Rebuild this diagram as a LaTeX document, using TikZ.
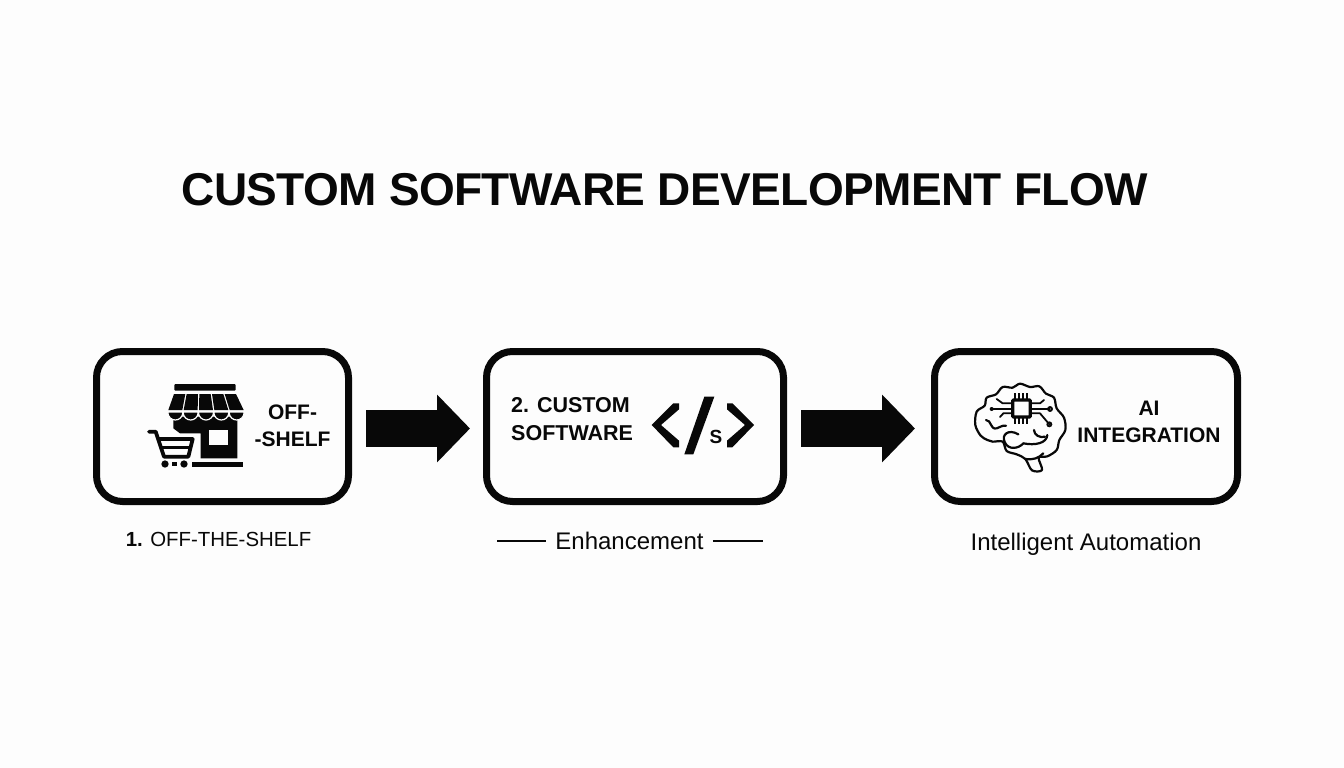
\documentclass[tikz,border=0pt]{standalone}
\usepackage{fontspec}
\setmainfont{Liberation Sans}
\usetikzlibrary{calc}
\usetikzlibrary{arrows.meta}
\usetikzlibrary{positioning}
\definecolor{inkblack}{RGB}{8, 8, 8}
\definecolor{paperwhite}{RGB}{253, 253, 253}
\tikzset{
    flowbox/.style={draw=inkblack, line width=7pt, rounded corners=26pt, minimum height=150pt, inner sep=0pt},
    flowarrow/.style={draw=inkblack, line width=37pt, -{Triangle[length=33pt, width=66pt, inkblack]}, shorten <=14pt},
    boxtext/.style={font=\fontsize{21}{27.5}\selectfont\bfseries, text=inkblack, inner sep=0pt},
    captext/.style={font=\fontsize{24}{28}\selectfont, text=inkblack, inner sep=0pt},
    iconline/.style={draw=inkblack, line cap=round, line join=round}
}
\begin{document}
\begin{tikzpicture}[x=1pt, y=-1pt]
    % Frame to fix the page
    \fill[paperwhite] (0,0) rectangle (1344,768);
    \useasboundingbox (0,0) rectangle (1344,768);
    % Title
    \node[font=\fontsize{46}{56}\selectfont\bfseries\addfontfeature{LetterSpace=-1.3}, text=inkblack, inner sep=0pt] (flowtitle) at (664.5,190) {CUSTOM SOFTWARE DEVELOPMENT FLOW};
    % Boxes
    \node[flowbox, minimum width=252pt] (offshelfbox) at (222.5,426.5) {};
    \node[flowbox, minimum width=297pt] (custombox)   at (635,426.5) {};
    \node[flowbox, minimum width=303pt] (aibox)       at (1086,426.5) {};
    % Block arrows
    \draw[flowarrow, shorten >=13pt] ([yshift=-2pt]offshelfbox.east) -- ([yshift=-2pt]custombox.west);
    \draw[flowarrow, shorten >=16pt] ([yshift=-2pt]custombox.east) -- ([yshift=-2pt]aibox.west);
    % Box labels
    \node[boxtext, align=center] (offshelftext) at (292.5,426) {OFF-\\-SHELF};
    \node[boxtext, font=\fontsize{21.5}{27.5}\selectfont\bfseries, align=left, anchor=west] (customtext) at (511,419) {2. CUSTOM\\SOFTWARE};
    \node[boxtext, align=center] (aitext) at (1149,422) {AI\\INTEGRATION};
    % Captions
    \node[captext, font=\fontsize{20.4}{26}\selectfont] (offshelfcap) at (218.5,539) {\textbf{1.} OFF-THE-SHELF};
    \node[captext, inner xsep=9pt] (enhancecap) at (629.5,541) {Enhancement};
    \node[captext] (aicap) at (1086,544) {Intelligent Automation};
    \coordinate (enhanceleft)  at (497,541);
    \coordinate (enhanceright) at (763,541);
    \draw[inkblack, line width=1.2pt] (enhanceleft) -- (enhancecap.west);
    \draw[inkblack, line width=1.2pt] (enhancecap.east) -- (enhanceright);
    % Shop icon
    \begin{scope}[shift={(140,375)}, scale=1/3]
        \fill[inkblack, rounded corners=1pt] (103,27) rectangle (287,47);
        % awning stripes and scallops
        \foreach \i in {0,1,2,3,4} {
            \pgfmathsetmacro{\topa}{100+\i*38+2}
            \pgfmathsetmacro{\topb}{100+(\i+1)*38-2}
            \pgfmathsetmacro{\bota}{83+\i*46+2}
            \pgfmathsetmacro{\botb}{83+(\i+1)*46-2}
            \fill[inkblack] (\topa,57) -- (\topb,57) -- (\botb,105) -- (\bota,105) -- cycle;
        }
        % building with the window
        \fill[inkblack] (100,125) -- (292,125) -- (292,250) -- (182,250) -- (182,175) -- (120,175) -- (100,160) -- cycle;
        \fill[paperwhite] (207,165) rectangle (265,210);
        % scallops, with white lines over the building
        \foreach \i in {0,1,2,3,4} {
            \pgfmathsetmacro{\midx}{83+\i*46+23}
            \fill[inkblack, draw=paperwhite, line width=1.2pt] (\midx-23,111) .. controls (\midx-21,143) and (\midx+21,143) .. (\midx+23,111) -- cycle;
        }
        % ground and cart
        \fill[inkblack] (155,260) rectangle (310,275);
        \draw[iconline, line width=3.8pt] (27,170) -- (47,170) -- (72,245) -- (145,245) -- (158,192) -- (54,192);
        \draw[iconline, line width=3.2pt] (62,218) -- (150,218);
        \fill[inkblack] (75,267) circle (11);
        \fill[inkblack] (132,267) circle (11);
        \fill[inkblack] (95,261) rectangle (112,273);
    \end{scope}
    % Code icon
    \begin{scope}[shift={(480,340)}, scale=1/3]
        \fill[inkblack] (515,255) -- (580,190) -- (597,190) -- (597,208) -- (543,255) -- (597,302) -- (597,322) -- (580,322) -- cycle;
        \fill[inkblack] (822,255) -- (757,190) -- (741,190) -- (741,208) -- (795,255) -- (741,302) -- (741,322) -- (757,322) -- cycle;
        \fill[inkblack] (673,170) -- (703,170) -- (640,343) -- (613,343) -- cycle;
    \end{scope}
    \node[font=\fontsize{19}{19}\selectfont\bfseries, text=inkblack, inner sep=0pt] (codeletter) at (716,437) {S};
    % Brain icon
    \begin{scope}[shift={(960,375)}, scale=1/3]
        \draw[iconline, line width=2.2pt] plot[smooth cycle, tension=0.55] coordinates {
            (62,182) (46,150) (50,110) (74,92) (80,68) (108,58) (128,36) (158,38)
            (180,26) (210,36) (238,34) (258,56) (282,68) (290,100) (312,128) (316,165)
            (298,195) (290,225) (262,244) (236,248) (246,285) (216,286) (196,252)
            (170,238) (140,228) (128,200) (98,200) (82,195)
        };
        % folds
        \draw[iconline, line width=2.2pt] (175,178) .. controls (145,160) and (122,180) .. (135,203) .. controls (145,225) and (175,222) .. (190,205);
        \draw[iconline, line width=2.2pt] (190,205) .. controls (225,212) and (260,205) .. (262,180);
        \draw[iconline, line width=2.2pt] (222,165) .. controls (222,180) and (240,190) .. (255,185);
        \draw[iconline, line width=2.2pt] (196,252) .. controls (220,255) and (235,250) .. (250,235);
        \draw[iconline, line width=2.2pt] (78,135) .. controls (95,135) and (90,165) .. (110,160) .. controls (120,158) and (125,150) .. (138,152);
        % chip
        \draw[inkblack, line width=3.2pt, rounded corners=1pt] (158,75) rectangle (211,126);
        \foreach \px in {166,178,190,202} {
            \draw[inkblack, line width=2pt] (\px,55) -- (\px,75);
            \draw[inkblack, line width=2pt] (\px,126) -- (\px,148);
        }
        % traces
        \draw[iconline, line width=1.8pt] (158,85) -- (128,85) -- (110,72);
        \draw[iconline, line width=1.8pt] (158,102) -- (95,102);
        \draw[iconline, line width=1.8pt] (158,115) -- (130,115) -- (120,126);
        \draw[iconline, line width=1.8pt] (211,85) -- (240,85) -- (252,75);
        \draw[iconline, line width=1.8pt] (211,102) -- (270,102);
        \draw[iconline, line width=1.8pt] (211,115) -- (240,115) -- (268,148);
        \foreach \dx/\dy in {270/102, 268/148} {
            \draw[inkblack, line width=1.8pt] (\dx,\dy) circle (6);
        }
        \fill[inkblack] (95,102) circle (6);
    \end{scope}
\end{tikzpicture}
\end{document}
